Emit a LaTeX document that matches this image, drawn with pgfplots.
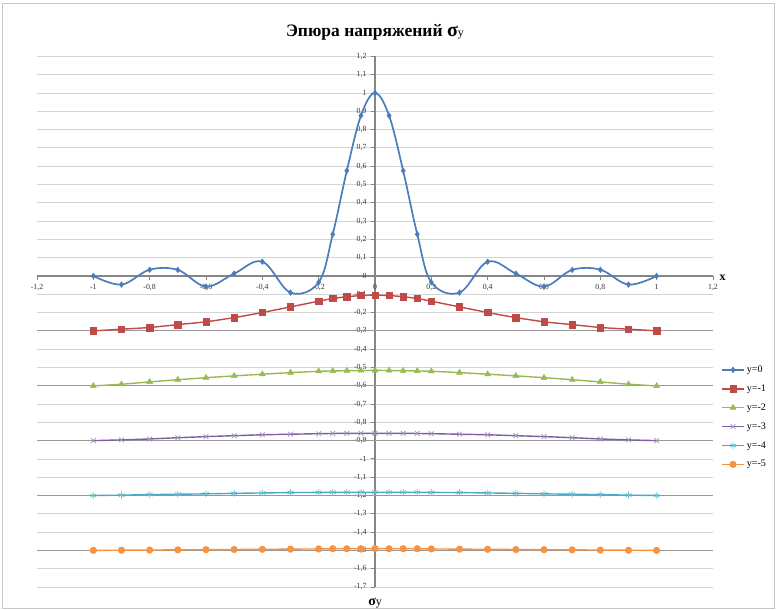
\documentclass[border=0pt]{standalone}
\usepackage{fontspec}
\setmainfont{Liberation Serif}
\usepackage{pgfplots}
\pgfplotsset{compat=1.18}
\definecolor{cb}{HTML}{4A7EBB}
\definecolor{cr}{HTML}{BE4B48}
\definecolor{cg}{HTML}{98B954}
\definecolor{cp}{HTML}{7D60A0}
\definecolor{cc}{HTML}{46AAC5}
\definecolor{co}{HTML}{F69240}
\definecolor{axc}{HTML}{868686}
\definecolor{grc}{HTML}{D4D4D4}
\begin{document}
\begin{tikzpicture}
\begin{axis}[
  at={(37pt,23pt)}, anchor=south west,
  scale only axis, width=676pt, height=530.6pt,
  xmin=-1.2, xmax=1.2, ymin=-1.7, ymax=1.2,
  axis lines=middle,
  axis line style={draw=axc, line width=1.5pt, -},
  hide obscured x ticks=false, hide obscured y ticks=false,
  xtick={-1.2,-1,-0.8,-0.6,-0.4,-0.2,0,0.2,0.4,0.6,0.8,1,1.2},
  ytick={-1.7,-1.6,-1.5,-1.4,-1.3,-1.2,-1.1,-1,-0.9,-0.8,-0.7,-0.6,-0.5,-0.4,-0.3,-0.2,-0.1,0,0.1,0.2,0.3,0.4,0.5,0.6,0.7,0.8,0.9,1,1.1,1.2},
  tick align=outside, major tick length=4pt,
  tick style={draw=axc, line width=0.9pt},
  ymajorgrids=true,
  major grid style={draw=grc, line width=0.8pt},
  extra y ticks={-0.3,-0.6,-0.9,-1.2,-1.5},
  extra y tick labels={},
  extra y tick style={major grid style={draw=axc!85, line width=1.3pt}, tick style={draw=none}},
  /pgf/number format/assume math mode=true,
  /pgf/number format/.cd, fixed, precision=1, use comma, /pgfplots/.cd,
  tick label style={font=\fontsize{7.8}{9}\selectfont, text=black!80},
  xticklabel style={anchor=north, yshift=-1pt},
  yticklabel style={anchor=east, xshift=-1pt},
  title={Эпюра напряжений {\fontsize{20}{20}\selectfont σ}{\fontsize{12}{12}\selectfont\mdseries y}},
  title style={font=\fontsize{17.5}{18}\selectfont\bfseries, yshift=7pt},
  xlabel={x},
  xlabel style={at={(current axis.right of origin)}, anchor=west, xshift=3pt, yshift=-2pt, font=\fontsize{12}{12}\selectfont\bfseries},
  ylabel={{\fontsize{14}{14}\selectfont\bfseries σ}y},
  ylabel style={at={(current axis.below origin)}, anchor=north, rotate=0, yshift=-8pt, font=\fontsize{12}{12}\selectfont},
  legend style={draw=none, fill=none, at={(1,0.421)}, anchor=north west, xshift=8pt,
    font=\fontsize{10}{11}\selectfont, row sep=6.8pt, inner sep=0pt},
  legend cell align=left,
  legend image code/.code={\draw[mark repeat=2,mark phase=2,#1] plot coordinates {(0pt,0pt) (11pt,0pt) (22pt,0pt)};},
]
\addplot[cb, line width=1.7pt, smooth, tension=0.6, mark=diamond*, mark size=2.8pt, mark options={solid, fill=cb, line width=0.5pt}] coordinates {
(-1,0) (-0.9,-0.047) (-0.8,0.034) (-0.7,0.033) (-0.6,-0.058) (-0.5,0.013) (-0.4,0.078) (-0.3,-0.091) (-0.2,-0.035) (-0.15,0.228) (-0.1,0.575) (-0.05,0.876) (0,1.0) (0.05,0.876) (0.1,0.575) (0.15,0.228) (0.2,-0.035) (0.3,-0.091) (0.4,0.078) (0.5,0.013) (0.6,-0.058) (0.7,0.033) (0.8,0.034) (0.9,-0.047) (1,0)};
\addlegendentry{y=0}
\addplot[cr, line width=1.4pt, mark=square*, mark size=3.2pt, mark options={solid, fill=cr, line width=0.5pt}] coordinates {
(-1,-0.300) (-0.9,-0.291) (-0.8,-0.282) (-0.7,-0.266) (-0.6,-0.251) (-0.5,-0.228) (-0.4,-0.200) (-0.3,-0.169) (-0.2,-0.138) (-0.15,-0.123) (-0.1,-0.113) (-0.05,-0.107) (0,-0.104) (0.05,-0.107) (0.1,-0.113) (0.15,-0.123) (0.2,-0.138) (0.3,-0.169) (0.4,-0.200) (0.5,-0.228) (0.6,-0.251) (0.7,-0.266) (0.8,-0.282) (0.9,-0.291) (1,-0.300)};
\addlegendentry{y=-1}
\addplot[cg, line width=1.4pt, mark=triangle*, mark size=3.4pt, mark options={solid, fill=cg, line width=0.5pt}] coordinates {
(-1,-0.601) (-0.9,-0.592) (-0.8,-0.579) (-0.7,-0.567) (-0.6,-0.556) (-0.5,-0.546) (-0.4,-0.537) (-0.3,-0.528) (-0.2,-0.521) (-0.15,-0.519) (-0.1,-0.518) (-0.05,-0.517) (0,-0.516) (0.05,-0.517) (0.1,-0.518) (0.15,-0.519) (0.2,-0.521) (0.3,-0.528) (0.4,-0.537) (0.5,-0.546) (0.6,-0.556) (0.7,-0.567) (0.8,-0.579) (0.9,-0.592) (1,-0.601)};
\addlegendentry{y=-2}
\addplot[cp, line width=1.4pt, mark=x, mark size=3.4pt, mark options={solid, cp!70, line width=0.7pt}] coordinates {
(-1,-0.900) (-0.9,-0.896) (-0.8,-0.891) (-0.7,-0.884) (-0.6,-0.878) (-0.5,-0.873) (-0.4,-0.868) (-0.3,-0.865) (-0.2,-0.862) (-0.15,-0.861) (-0.1,-0.860) (-0.05,-0.860) (0,-0.860) (0.05,-0.860) (0.1,-0.860) (0.15,-0.861) (0.2,-0.862) (0.3,-0.865) (0.4,-0.868) (0.5,-0.873) (0.6,-0.878) (0.7,-0.884) (0.8,-0.891) (0.9,-0.896) (1,-0.900)};
\addlegendentry{y=-3}
\addplot[cc, line width=1.4pt, mark=asterisk, mark size=3.4pt, mark options={solid, cc!80, line width=0.7pt}] coordinates {
(-1,-1.200) (-0.9,-1.198) (-0.8,-1.195) (-0.7,-1.193) (-0.6,-1.191) (-0.5,-1.188) (-0.4,-1.186) (-0.3,-1.184) (-0.2,-1.183) (-0.15,-1.182) (-0.1,-1.182) (-0.05,-1.182) (0,-1.182) (0.05,-1.182) (0.1,-1.182) (0.15,-1.182) (0.2,-1.183) (0.3,-1.184) (0.4,-1.186) (0.5,-1.188) (0.6,-1.191) (0.7,-1.193) (0.8,-1.195) (0.9,-1.198) (1,-1.200)};
\addlegendentry{y=-4}
\addplot[co, line width=1.4pt, mark=*, mark size=3.3pt, mark options={solid, fill=co, line width=0.5pt}] coordinates {
(-1,-1.500) (-0.9,-1.499) (-0.8,-1.498) (-0.7,-1.497) (-0.6,-1.496) (-0.5,-1.495) (-0.4,-1.494) (-0.3,-1.493) (-0.2,-1.492) (-0.15,-1.491) (-0.1,-1.491) (-0.05,-1.491) (0,-1.490) (0.05,-1.491) (0.1,-1.491) (0.15,-1.491) (0.2,-1.492) (0.3,-1.493) (0.4,-1.494) (0.5,-1.495) (0.6,-1.496) (0.7,-1.497) (0.8,-1.498) (0.9,-1.499) (1,-1.500)};
\addlegendentry{y=-5}
\end{axis}
\draw[gray!45, line width=0.8pt] (2pt,2pt) rectangle (774pt,607pt);
\pgfresetboundingbox
\path[use as bounding box] (0pt,0pt) rectangle (777pt,610pt);
\end{tikzpicture}
\end{document}
